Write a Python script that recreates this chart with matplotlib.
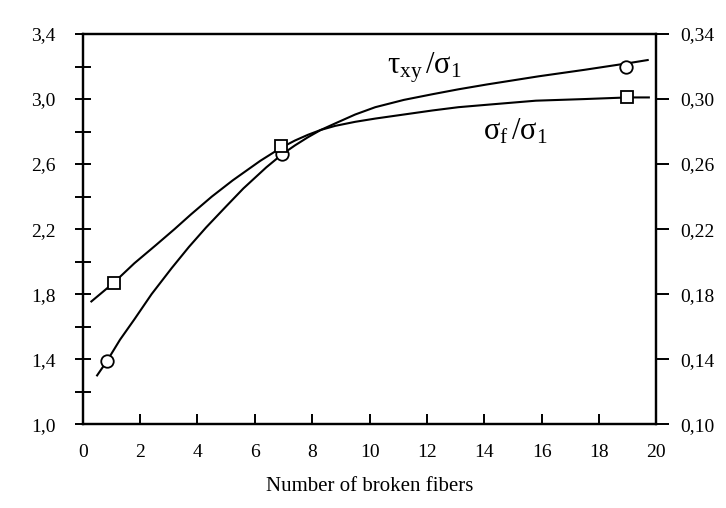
import matplotlib
matplotlib.use('Agg')
import matplotlib.pyplot as plt
import numpy as np

plt.rcParams['font.family'] = ['Liberation Serif', 'DejaVu Serif']
plt.rcParams['mathtext.fontset'] = 'stix'

# traced curves (x = number of broken fibers, y on left scale)
tau_x = [0.5, 0.85, 1.3, 1.8, 2.4, 3.1, 3.7, 4.3, 5.0, 5.6, 6.4, 6.95, 7.4, 7.85, 8.3, 8.8, 9.5,
         10.2, 11.2, 12.2, 13.1, 14.1, 15.9, 17.5, 19.0, 19.7]
tau_y = [1.30, 1.39, 1.52, 1.645, 1.80, 1.96, 2.09, 2.21, 2.34, 2.45, 2.58, 2.66, 2.715, 2.765, 2.81, 2.85, 2.905,
         2.95, 2.995, 3.03, 3.06, 3.09, 3.14, 3.18, 3.22, 3.24]
sig_x = [0.3, 1.08, 1.8, 2.54, 3.2, 3.77, 4.5, 5.23, 6.19, 6.91, 7.4, 7.85, 8.3, 8.8, 9.5, 10.2, 11.2,
         12.2, 13.1, 14.1, 15.8, 17.5, 19.0, 19.74]
sig_y = [1.755, 1.87, 1.99, 2.10, 2.20, 2.29, 2.40, 2.50, 2.62, 2.70, 2.745, 2.78, 2.81, 2.835, 2.86, 2.88, 2.905,
         2.93, 2.95, 2.965, 2.99, 3.00, 3.01, 3.01]

# measured points
tau_px = [0.85, 6.95, 18.95]
tau_py = [1.39, 2.66, 3.20]
sig_px = [1.08, 6.91, 18.98]
sig_py = [1.87, 2.71, 3.01]

xticks = [0, 2, 4, 6, 8, 10, 12, 14, 16, 18, 20]
left_ticks = [1.0, 1.4, 1.8, 2.2, 2.6, 3.0, 3.4]
right_ticks = [0.10, 0.14, 0.18, 0.22, 0.26, 0.30, 0.34]

fig = plt.figure(figsize=(7.26, 5.08), dpi=100)
ax = fig.add_axes([0.114, 0.165, 0.79, 0.768])

ax.plot(tau_x, tau_y, color='black', lw=1.5, solid_joinstyle='round')
ax.plot(sig_x, sig_y, color='black', lw=1.5, solid_joinstyle='round')
ax.plot(tau_px, tau_py, 'o', ms=9, mfc='white', mec='black', mew=1.3)
ax.plot(sig_px, sig_py, 's', ms=8.5, mfc='white', mec='black', mew=1.3)

ax.set_xlim(0, 20)
ax.set_ylim(1.0, 3.4)
for s in ax.spines.values():
    s.set_linewidth(1.6)

ax.set_xticks(xticks)
ax.set_xticklabels([str(v) for v in xticks])
ax.tick_params(axis='x', direction='in', length=7, width=1.4, pad=14, labelsize=14)
ax.set_yticks(left_ticks)
ax.set_yticklabels([('%.1f' % v).replace('.', ',') for v in left_ticks])
ax.set_yticks(np.arange(1.2, 3.3, 0.4), minor=True)
ax.tick_params(axis='y', which='both', direction='inout', length=11, width=1.4, pad=14, labelsize=14)
ax.set_xlabel('Number of broken fibers', fontsize=15, labelpad=12)

ax2 = ax.twinx()
ax2.set_ylim(0.10, 0.34)
ax2.set_yticks(right_ticks)
ax2.set_yticklabels([('%.2f' % v).replace('.', ',') for v in right_ticks])
ax2.tick_params(axis='y', direction='out', length=9, width=1.4, pad=8, labelsize=14)
for s in ax2.spines.values():
    s.set_linewidth(1.6)

ax.text(11.9, 3.19, r'$\mathregular{\tau_{xy}\,/\sigma_1}$', fontsize=22, ha='center', va='center')
ax.text(15.1, 2.80, r'$\mathregular{\sigma_f\,/\sigma_1}$', fontsize=22, ha='center', va='center')

fig.savefig('out.png', dpi=100)
